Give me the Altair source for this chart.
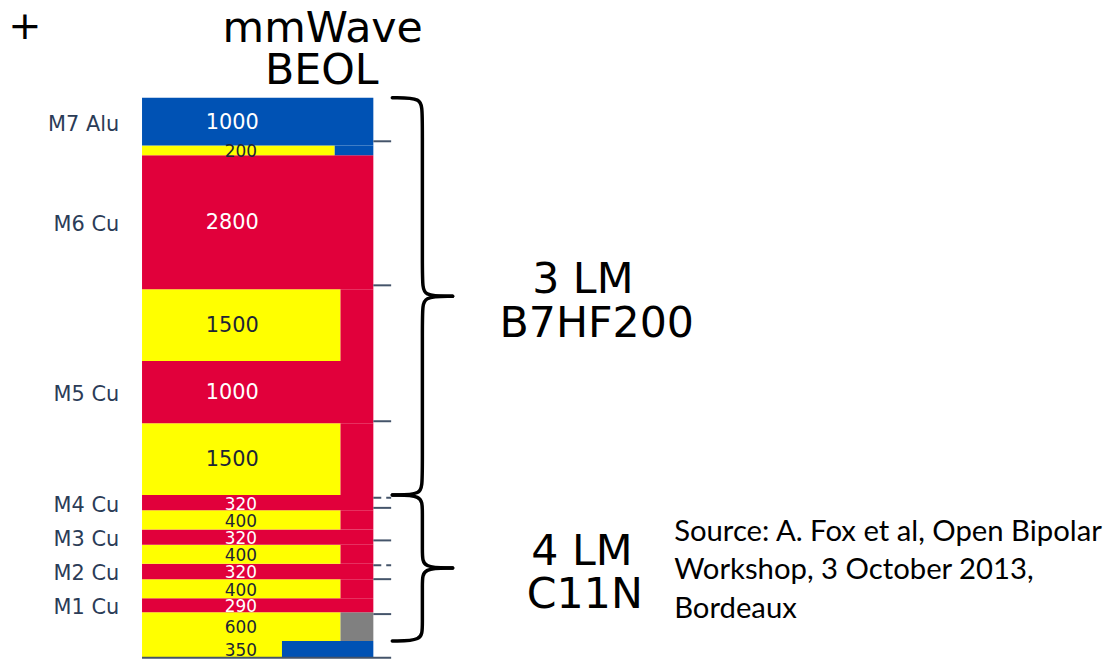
import altair as alt
import pandas as pd

# ---------------- data (layer stack, bottom to top) ----------------
layer_label = ["350", "600", "290", "400", "320", "400", "320", "400", "320",
               "1500", "1000", "1500", "2800", "200", "1000"]
# thickness as drawn in the picture (nm-equivalent)
layer_drawn = [350, 600, 290, 400, 320, 400, 320, 400, 320,
               1500, 1300, 1500, 2800, 200, 1000]
layer_color = ["yellow", "yellow", "red", "yellow", "red", "yellow", "red", "yellow", "red",
               "yellow", "red", "yellow", "red", "yellow", "blue"]
layer_width = [0.605, 0.858, 1, 0.858, 1, 0.858, 1, 0.858, 1,
               0.858, 1, 0.858, 1, 0.833, 1]
side_color = ["blue", "grey", "", "red", "", "red", "", "red", "",
              "red", "", "red", "", "blue", ""]
metal_name = ["", "", "M1 Cu", "", "M2 Cu", "", "M3 Cu", "", "M4 Cu",
              "", "M5 Cu", "", "M6 Cu", "", "M7 Alu"]

# module groups (braces)
group_line1 = ["3 LM", "4 LM"]
group_line2 = ["B7HF200", "C11N"]
group_first = [9, 1]
group_last = [14, 8]

# side axis ticks (same units as stack)
tick_values = [10790, 7780, 4940, 3340, 3130, 2450, 1930, 1640, 910, 0]
tick_dashed = [False, False, False, True, False, False, True, False, False, False]

source_lines = ["Source: A. Fox et al, Open Bipolar", "Workshop, 3 October 2013,", "Bordeaux"]

# ---------------- styling ----------------
PALETTE = {"yellow": "#FFFF00", "red": "#E1003B", "blue": "#0052B4", "grey": "#808080"}
VERDANA = "DejaVu Sans"
W, H = 1107, 654
xs = alt.Scale(domain=[-0.5794, 4.1717], nice=False, zero=False)
ys = alt.Scale(domain=[-41.5, 13525.6], nice=False, zero=False)

# ---------------- tables ----------------
cum = [0]
for t in layer_drawn:
    cum.append(cum[-1] + t)

rects, labels, metals = [], [], []
for i, lab in enumerate(layer_label):
    y0, y1 = cum[i], cum[i + 1]
    rects.append({"x0": 0, "x1": layer_width[i], "y0": y0, "y1": y1,
                  "fill": PALETTE[layer_color[i]]})
    if side_color[i]:
        rects.append({"x0": layer_width[i], "x1": 1, "y0": y0, "y1": y1,
                      "fill": PALETTE[side_color[i]]})
    big = int(lab) >= 1000
    labels.append({"t": lab, "y": (y0 + y1) / 2, "big": big,
                   "c": "#1d2536" if layer_color[i] == "yellow" else "#ffffff"})
    if metal_name[i]:
        metals.append({"t": metal_name[i], "y": (y0 + y1) / 2})
rects = pd.DataFrame(rects)
labels = pd.DataFrame(labels)
metals = pd.DataFrame(metals)

ticks = pd.DataFrame({"y": tick_values, "dash": tick_dashed})
ticks["x0"] = [0.0 if v == 0 else 1.0 for v in tick_values]
ticks["x1"] = 1.077

HOOK, VERT, TIP, C = 1.082, 1.212, 1.343, 300
brace = []
for g in range(len(group_line1)):
    top, bot = cum[group_last[g] + 1], cum[group_first[g]]
    mid = (top + bot) / 2
    upper = [(HOOK, top), (VERT, top), (VERT, top - C), (VERT, mid + C), (VERT, mid), (TIP, mid)]
    lower = [(TIP, mid), (VERT, mid), (VERT, mid - C), (VERT, bot + C), (VERT, bot), (HOOK, bot)]
    for h, pts in enumerate([upper, lower]):
        for k, (x, y) in enumerate(pts):
            brace.append({"key": f"{g}-{h}", "o": k, "x": x, "y": y})
brace = pd.DataFrame(brace)

# ---------------- layers ----------------
stack = alt.Chart(rects).mark_rect().encode(
    x=alt.X("x0:Q", scale=xs, axis=None), x2="x1:Q",
    y=alt.Y("y0:Q", scale=ys, axis=None), y2="y1:Q",
    color=alt.Color("fill:N", scale=None),
)

big_txt = alt.Chart(labels).transform_filter("datum.big").mark_text(
    font=VERDANA, fontSize=21, baseline="middle", align="center", dy=1
).encode(x=alt.value(226), y=alt.Y("y:Q", scale=ys), text="t:N", color=alt.Color("c:N", scale=None))

small_txt = alt.Chart(labels).transform_filter("!datum.big").mark_text(
    font=VERDANA, fontSize=17, baseline="middle", align="center", dy=2
).encode(x=alt.value(234.5), y=alt.Y("y:Q", scale=ys), text="t:N", color=alt.Color("c:N", scale=None))

metal_txt = alt.Chart(metals).mark_text(
    font=VERDANA, fontSize=21, baseline="middle", align="right", dy=3, color="#2B3C57"
).encode(x=alt.value(112), y=alt.Y("y:Q", scale=ys), text="t:N")

tick_solid = alt.Chart(ticks).transform_filter("!datum.dash").mark_rule(
    color="#44546A", strokeWidth=2
).encode(x=alt.X("x0:Q", scale=xs), x2="x1:Q", y=alt.Y("y:Q", scale=ys))

tick_dash = alt.Chart(ticks).transform_filter("datum.dash").mark_rule(
    color="#44546A", strokeWidth=2, strokeDash=[8, 5]
).encode(x=alt.X("x0:Q", scale=xs), x2="x1:Q", y=alt.Y("y:Q", scale=ys))

braces = alt.Chart(brace).mark_line(
    interpolate="basis", color="black", strokeWidth=3.5, strokeCap="round"
).encode(x=alt.X("x:Q", scale=xs), y=alt.Y("y:Q", scale=ys), detail="key:N", order="o:Q")


def note(text, x, y, size, align="center", font=VERDANA, baseline="alphabetic"):
    return alt.Chart(pd.DataFrame({"t": [text]})).mark_text(
        font=font, fontSize=size, align=align, baseline=baseline, color="black"
    ).encode(x=alt.value(x), y=alt.value(y), text="t:N")


notes = [
    note("+", 17, 17, 40, baseline="middle"),
    note("mmWave", 317, 32, 43),
    note("BEOL", 316, 74, 43),
    note(group_line1[0], 579, 285, 43),
    note(group_line2[0], 593, 329, 43),
    note(group_line1[1], 578, 559, 43),
    note(group_line2[1], 581, 602, 43),
]
for j, line in enumerate(source_lines):
    notes.append(note(line, 671, 534 + 39 * j, 29.5, align="left", font="Lato"))

chart = alt.layer(
    stack, tick_solid, tick_dash, big_txt, small_txt, metal_txt, braces, *notes
).properties(
    width=W, height=H, padding=0, autosize="none", background="white"
).configure_view(stroke=None)

chart.save("out.html", embed_options={"renderer": "svg", "actions": False})
